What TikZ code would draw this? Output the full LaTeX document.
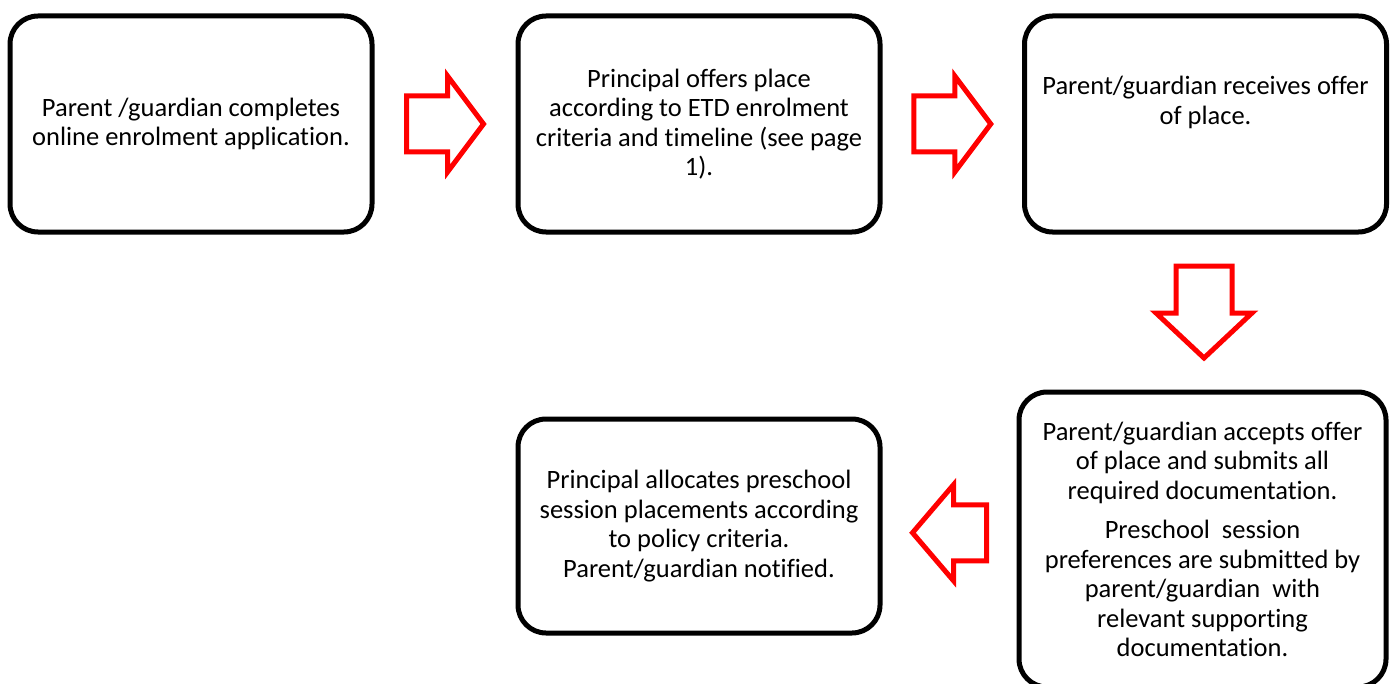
\documentclass[tikz,border=0pt]{standalone}
\usepackage{fontspec}
\setmainfont[Ligatures=NoCommon]{Carlito}
\usetikzlibrary{calc}
\tikzset{
  stepbox/.style={draw, line width=2.5pt, rounded corners=14pt,
    minimum width=181pt, minimum height=108pt, inner sep=0pt},
  boxtext/.style={align=center, inner sep=0pt,
    font=\fontsize{13.25pt}{14.75pt}\selectfont},
  arrowline/.style={draw=red, line width=2.5pt, line join=miter},
  pics/flowarrow/.style 2 args={code={
    \draw[arrowline] (-#1,-28) -- (#1-#2,-28) -- (#1-#2,-48) -- (#1,0)
      -- (#1-#2,48) -- (#1-#2,28) -- (-#1,28) -- cycle;
  }}
}
\begin{document}
\begin{tikzpicture}[x=0.5pt, y=-0.5pt]
    \useasboundingbox (0,0) rectangle (1395,684);
    \node[stepbox, boxtext] (box1) at (191,124)
      {Parent /guardian completes\\online enrolment application.};
    \node[stepbox, boxtext] (box2) at (699,124)
      {Principal offers place\\according to ETD enrolment\\criteria and timeline (see page\\1).};
    \node[stepbox] (box3) at (1205.5,124) {};
    \node[boxtext] (box3text) at ([yshift=10.75pt]box3.center)
      {Parent/guardian receives offer\\of place.};
    \node[stepbox, boxtext, minimum width=183.5pt, minimum height=147.5pt] (box4) at (1202.5,539.5)
      {Parent/guardian accepts offer\\of place and submits all\\required documentation.\\[5pt]
       Preschool\ \ session\\preferences are submitted by\\parent/guardian\ \ with\\relevant supporting\\documentation.};
    \node[stepbox, boxtext, minimum height=107pt] (box5) at (699,526)
      {Principal allocates preschool\\session placements according\\to policy criteria.\\Parent/guardian notified.};
    \pic at ($(box1.east)!0.5!(box2.west)$) {flowarrow={38.5}{36}};
    \pic at ($(box2.east)!0.5!(box3.west)$) {flowarrow={38.5}{36}};
    \pic[rotate=-90] at ($(box3.south)!0.5!(box4.north)$) {flowarrow={46}{45}};
    \pic[rotate=180] at ($(box4.west)!0.5!(box5.east)$) {flowarrow={37}{41}};
\end{tikzpicture}
\end{document}
